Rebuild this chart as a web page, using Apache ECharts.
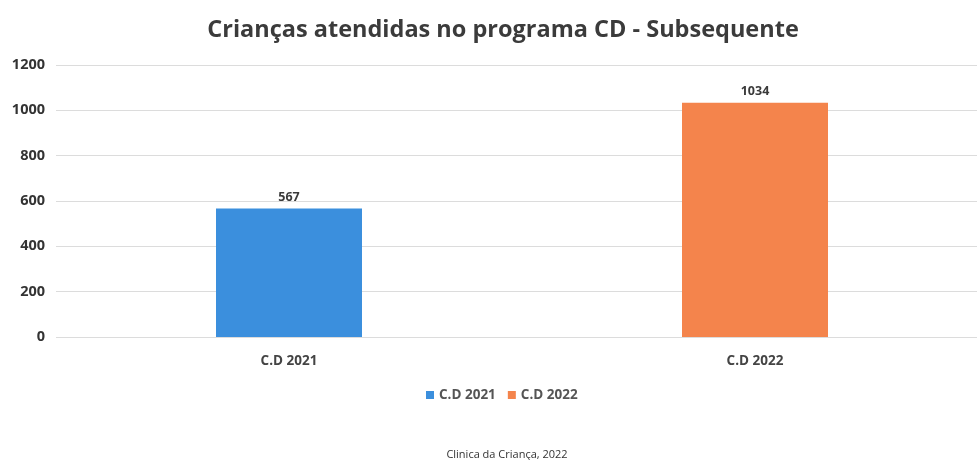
<!DOCTYPE html>
<html><head><meta charset="utf-8">
<script src="https://cdn.jsdelivr.net/npm/echarts@6/dist/echarts.min.js"></script>
<style>html,body{margin:0;padding:0;background:#fff;overflow:hidden;width:977px;height:460px}#c{width:988px;height:460px}</style>
</head><body><div id="c"></div>
<script>
const categories = ['C.D 2021', 'C.D 2022'];
const seriesNames = ['C.D 2021', 'C.D 2022'];
const values2021 = [567, '-'];
const values2022 = ['-', 1034];
const yTicks = { min: 0, max: 1200, interval: 200 };
const titleText = 'Crianças atendidas no programa CD - Subsequente';
const sourceText = 'Clinica da Criança, 2022';

const chart = echarts.init(document.getElementById('c'), null, { renderer: 'canvas' });
const labelStyle = { show: true, position: 'top', distance: 5, color: '#3a3a3a', fontSize: 12.5, fontWeight: 'bold', fontFamily: 'Open Sans' };
chart.setOption({
  animation: false,
  backgroundColor: '#fff',
  title: [{
    text: titleText, left: 498, textAlign: 'center', top: 13,
    textStyle: { fontFamily: 'Open Sans', fontWeight: 'bold', fontSize: 23.5, color: '#3b3b3b' }
  }, {
    text: sourceText, left: 502, textAlign: 'center', top: 444,
    textStyle: { fontFamily: 'Open Sans', fontWeight: 'normal', fontSize: 11, color: '#333' }
  }],
  legend: {
    data: seriesNames, left: 421, top: 383, itemWidth: 8, itemHeight: 8, itemGap: 12,
    icon: 'rect',
    textStyle: { fontFamily: 'Open Sans', fontWeight: 'bold', fontSize: 13.5, color: '#555' }
  },
  grid: { left: 56, right: 0, top: 65, bottom: 123, containLabel: false },
  xAxis: {
    type: 'category', data: categories,
    axisLine: { show: false }, axisTick: { show: false },
    axisLabel: { margin: 17, fontFamily: 'Open Sans', fontWeight: 'bold', fontSize: 13.5, color: '#444' }
  },
  yAxis: {
    type: 'value', min: yTicks.min, max: yTicks.max, interval: yTicks.interval,
    axisLine: { show: false }, axisTick: { show: false },
    axisLabel: { margin: 11, fontFamily: 'Open Sans', fontWeight: 'bold', fontSize: 14.5, color: '#333',
      formatter: v => String(v) },
    splitLine: { lineStyle: { color: '#dcdcdc', width: 1 } }
  },
  series: [
    { name: seriesNames[0], type: 'bar', stack: 's', data: values2021, barWidth: 146,
      itemStyle: { color: '#3b8fdd' }, label: labelStyle },
    { name: seriesNames[1], type: 'bar', stack: 's', data: values2022, barWidth: 146,
      itemStyle: { color: '#f4844c' }, label: labelStyle }
  ]
});
</script></body></html>
